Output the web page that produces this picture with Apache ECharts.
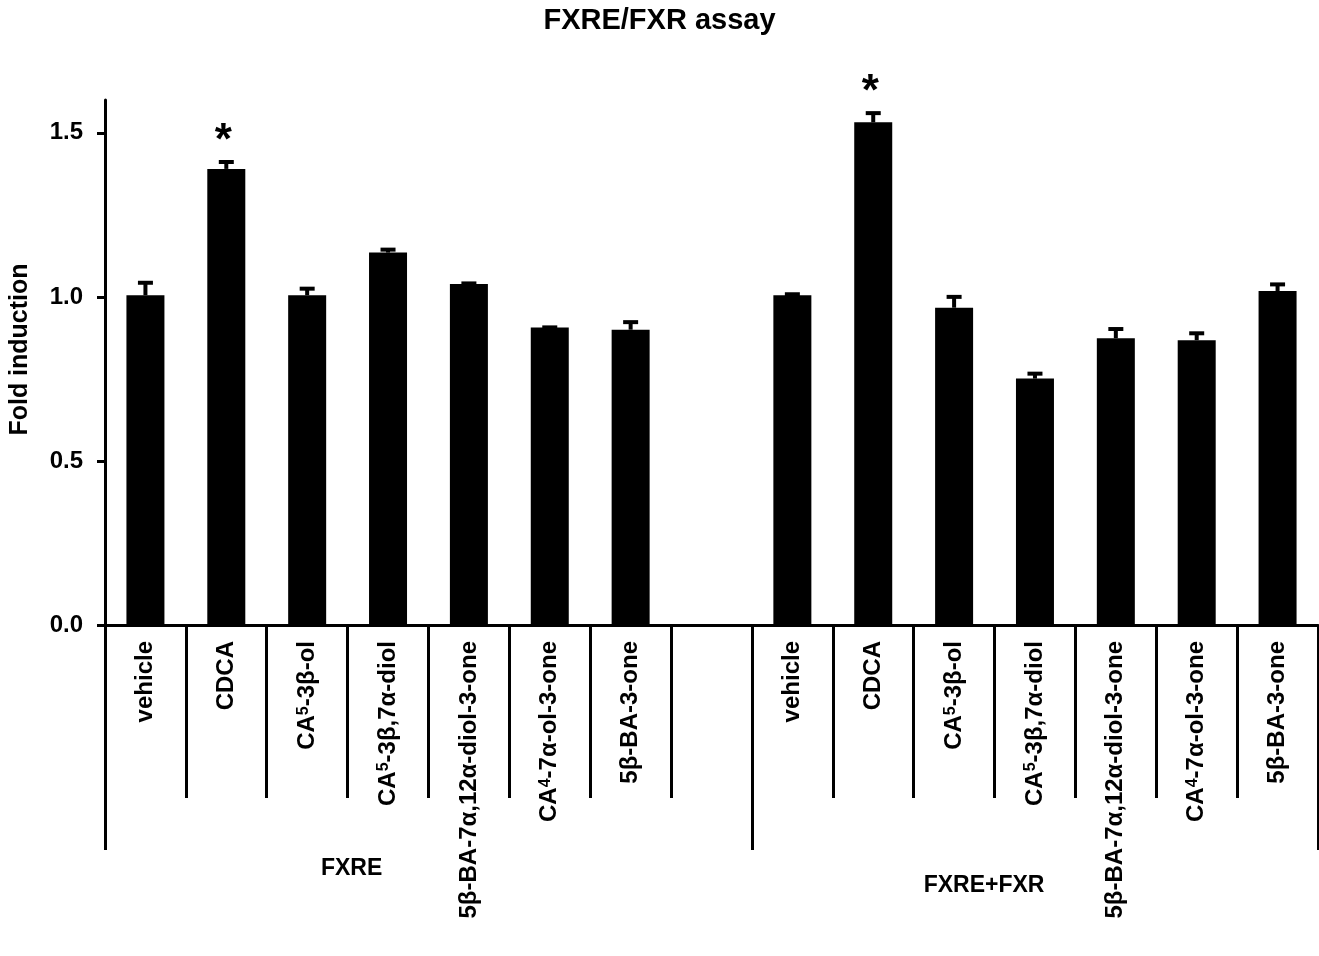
<!DOCTYPE html>
<html>
<head>
<meta charset="utf-8">
<script src="https://cdn.jsdelivr.net/npm/echarts@6/dist/echarts.min.js"></script>
<style>
html,body{margin:0;padding:0;background:#fff;}
#chart{width:1319px;height:956px;}
</style>
</head>
<body>
<div id="chart"></div>
<script>
// ---- data ----
var compounds = ['vehicle', 'CDCA', 'CA⁵-3β-ol', 'CA⁵-3β,7α-diol', '5β-BA-7α,12α-diol-3-one', 'CA⁴-7α-ol-3-one', '5β-BA-3-one'];
var groups = ['FXRE', 'FXRE+FXR'];
var fxreMean = [1.005, 1.390, 1.005, 1.135, 1.039, 0.907, 0.900];
var fxreUpper = [1.043, 1.411, 1.025, 1.144, 1.041, 0.907, 0.923];
var fxrMean = [1.005, 1.532, 0.967, 0.751, 0.874, 0.868, 1.018];
var fxrUpper = [1.008, 1.560, 1.000, 0.766, 0.902, 0.889, 1.038];
var fxreSig = ['', '*', '', '', '', '', ''];
var fxrSig = ['', '*', '', '', '', '', ''];
var yTicks = [0, 0.5, 1.0, 1.5];

// ---- build ----
var categories = compounds.concat(['']).concat(compounds);
var means = fxreMean.concat([null]).concat(fxrMean);
var uppers = fxreUpper.concat([null]).concat(fxrUpper);
var sigs = fxreSig.concat(['']).concat(fxrSig);
var nSlots = categories.length;
var groupBounds = [0, compounds.length + 1, nSlots];
var errData = [];
for (var i = 0; i < nSlots; i++) {
  if (means[i] != null) errData.push([i, means[i], uppers[i]]);
}
var errSig = errData.map(function (d) { return sigs[d[0]]; });

// layout constants
var groupLabelSlot = [3.05, 10.87];
var groupLabelY = [869, 886];

var FONT = '"Liberation Sans", Arial, sans-serif';
var SUP = {'⁴': '4', '⁵': '5'};

function richLabel(t) {
  var out = '';
  var re = /([⁴⁵])|([^⁴⁵]+)/g;
  var m;
  while ((m = re.exec(t)) !== null) {
    if (m[1]) out += '{s|' + SUP[m[1]] + '}';
    else out += '{n|' + m[2] + '}';
  }
  return out;
}

var chart = echarts.init(document.getElementById('chart'), null, {renderer: 'canvas'});

var option = {
  animation: false,
  backgroundColor: '#fff',
  title: {
    text: 'FXRE/FXR assay',
    left: 'center',
    top: 1,
    textStyle: {fontFamily: FONT, fontWeight: 'bold', fontSize: 29, color: '#000'}
  },
  grid: {left: 105, right: 1, top: 100, bottom: 331, containLabel: false},
  xAxis: [{
    type: 'category',
    data: categories,
    boundaryGap: true,
    axisLine: {lineStyle: {color: '#000', width: 3}},
    axisTick: {show: true, alignWithLabel: false, length: 173, lineStyle: {color: '#000', width: 3}},
    axisLabel: {
      interval: 0,
      rotate: 90,
      margin: 16,
      color: '#000',
      fontFamily: FONT,
      fontWeight: 'bold',
      fontSize: 24,
      formatter: function (v) { return v ? richLabel(v) : ''; },
      rich: {
        n: {fontFamily: FONT, fontWeight: 'bold', fontSize: 24, color: '#000'},
        s: {fontFamily: FONT, fontWeight: 'bold', fontSize: 16, verticalAlign: 'top', color: '#000'}
      }
    }
  }, {
    type: 'value',
    min: 0,
    max: nSlots,
    position: 'bottom',
    axisLine: {show: false},
    splitLine: {show: false},
    axisLabel: {show: false},
    axisTick: {show: true, customValues: groupBounds, length: 225, lineStyle: {color: '#000', width: 3}}
  }],
  yAxis: {
    type: 'value',
    min: 0,
    max: 1.6,
    interval: 0.5,
    name: 'Fold induction',
    nameLocation: 'middle',
    nameRotate: 90,
    nameGap: 72,
    nameTextStyle: {fontFamily: FONT, fontWeight: 'bold', fontSize: 25, color: '#000', padding: [0, 0, 0, 26]},
    axisLine: {show: true, lineStyle: {color: '#000', width: 3}},
    axisTick: {show: true, length: 8, customValues: yTicks, lineStyle: {color: '#000', width: 3}},
    splitLine: {show: false},
    axisLabel: {
      customValues: yTicks,
      margin: 22,
      color: '#000',
      fontFamily: FONT,
      fontWeight: 'bold',
      fontSize: 24,
      formatter: function (v) { return v.toFixed(1); }
    }
  },
  series: [{
    type: 'bar',
    data: means,
    barWidth: 38,
    itemStyle: {color: '#000'},
    z: 2
  }, {
    type: 'custom',
    data: errData,
    z: 3,
    renderItem: function (params, api) {
      var idx = api.value(0);
      var p0 = api.coord([idx, api.value(1)]);
      var p1 = api.coord([idx, api.value(2)]);
      var cap = 7.5;
      var children = [{
        type: 'line',
        shape: {x1: p0[0], y1: p0[1], x2: p1[0], y2: p1[1]},
        style: {stroke: '#000', lineWidth: 4}
      }, {
        type: 'line',
        shape: {x1: p1[0] - cap, y1: p1[1], x2: p1[0] + cap, y2: p1[1]},
        style: {stroke: '#000', lineWidth: 4}
      }];
      var s = errSig[params.dataIndex];
      if (s) {
        children.push({
          type: 'text',
          style: {
            text: s, x: p1[0] - 3, y: p1[1] + 2,
            fill: '#000', font: 'bold 44px ' + FONT,
            textAlign: 'center', textVerticalAlign: 'bottom'
          }
        });
      }
      return {type: 'group', children: children};
    }
  }]
};
chart.setOption(option);

// group labels under the long ticks
var gfx = groups.map(function (g, k) {
  var x = chart.convertToPixel({xAxisIndex: 1}, groupLabelSlot[k]);
  return {
    type: 'text',
    x: x,
    y: groupLabelY[k],
    style: {
      text: g, fill: '#000', font: 'bold 23px ' + FONT,
      textAlign: 'center', textVerticalAlign: 'middle'
    }
  };
});
chart.setOption({graphic: gfx});
</script>
</body>
</html>
